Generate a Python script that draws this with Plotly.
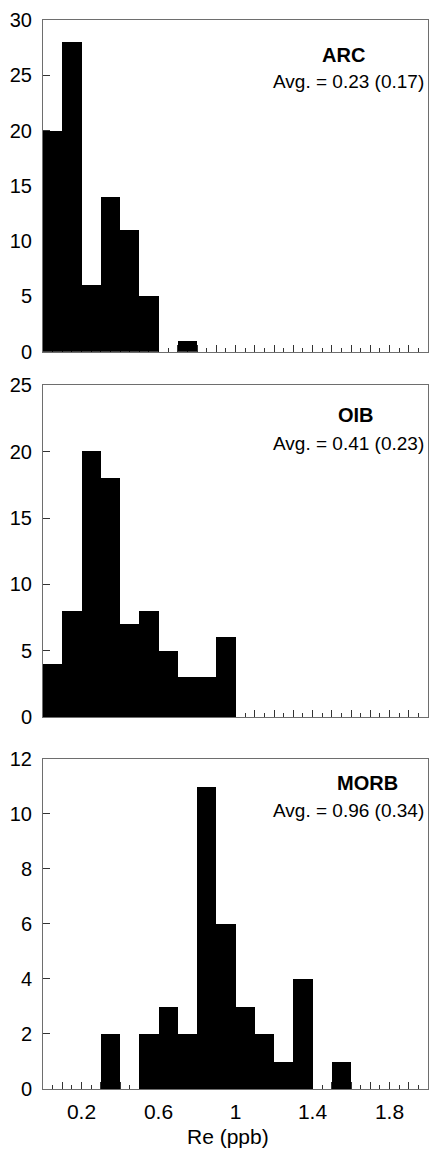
import plotly.graph_objects as go

# Re concentration bins (ppb), left edges, width 0.1
bin_left = [round(0.1 * i, 1) for i in range(20)]
bin_width = 0.1

arc_counts = [20, 28, 6, 14, 11, 5, 0, 1, 0, 0, 0, 0, 0, 0, 0, 0, 0, 0, 0, 0]
oib_counts = [4, 8, 20, 18, 7, 8, 5, 3, 3, 6, 0, 0, 0, 0, 0, 0, 0, 0, 0, 0]
morb_counts = [0, 0, 0, 2, 0, 2, 3, 2, 11, 6, 3, 2, 1, 4, 0, 1, 0, 0, 0, 0]

panel_names = ["ARC", "OIB", "MORB"]
panel_avgs = ["Avg. = 0.23 (0.17)", "Avg. = 0.41 (0.23)", "Avg. = 0.96 (0.34)"]
y_max = [30, 25, 12]
y_step = [5, 5, 2]

x_ticks = [round(0.1 * i, 1) for i in range(21)]
x_labels = ["0.2", "0.6", "1", "1.4", "1.8"]
x_axis_title = "Re (ppb)"

FONT = "Arial, Liberation Sans, sans-serif"
LINE = "#6e6e6e"

domains = [[0.6897, 1.0], [0.3477, 0.6583], [0.0, 0.309]]
name_x = [0.7797, 0.8140, 0.8428]
name_y = [0.8945, 0.9105, 0.927]
avg_y = [0.814, 0.825, 0.843]

fig = go.Figure()
all_counts = [arc_counts, oib_counts, morb_counts]
for i, counts in enumerate(all_counts):
    sfx = "" if i == 0 else str(i + 1)
    fig.add_trace(go.Bar(
        x=bin_left, y=counts, width=bin_width, offset=0,
        marker=dict(color="black", line=dict(width=0)),
        xaxis="x" + sfx, yaxis="y" + sfx, showlegend=False,
        hoverinfo="x+y",
    ))

    tick_text = []
    for v in x_ticks:
        lab = ("%g" % v)
        tick_text.append(lab if (i == 2 and lab in x_labels) else "")

    xa = dict(
        domain=[0, 1], range=[0, 2.0], anchor="y" + sfx,
        tickmode="array", tickvals=x_ticks, ticktext=tick_text,
        ticks="inside", ticklen=7, tickwidth=1, tickcolor="#333",
        minor=dict(tickmode="array",
                   tickvals=[round(0.05 + 0.1 * k, 2) for k in range(20)],
                   ticks="inside", ticklen=4, tickwidth=1, tickcolor="#333"),
        showline=True, linecolor=LINE, linewidth=1, mirror=True,
        showgrid=False, zeroline=False, fixedrange=True,
        tickfont=dict(family=FONT, size=21, color="black"),
        ticklabelstandoff=4, layer="below traces",
    )
    ya = dict(
        domain=domains[i], range=[0, y_max[i]], anchor="x" + sfx,
        tickmode="array",
        tickvals=list(range(0, y_max[i] + 1, y_step[i])),
        ticks="inside", ticklen=7, tickwidth=1, tickcolor="#333",
        showline=True, linecolor=LINE, linewidth=1, mirror=True,
        showgrid=False, zeroline=False, fixedrange=True,
        tickfont=dict(family=FONT, size=20, color="black"),
        ticklabelstandoff=6, layer="below traces",
    )
    fig.layout["xaxis" + sfx] = xa
    fig.layout["yaxis" + sfx] = ya

    fig.add_annotation(text="<b>%s</b>" % panel_names[i],
                       xref="x%s domain" % sfx, yref="y%s domain" % sfx,
                       x=name_x[i], y=name_y[i], xanchor="center", yanchor="middle",
                       showarrow=False, font=dict(family=FONT, size=20, color="black"))
    fig.add_annotation(text=panel_avgs[i],
                       xref="x%s domain" % sfx, yref="y%s domain" % sfx,
                       x=0.994, y=avg_y[i], xanchor="right", yanchor="middle",
                       showarrow=False, font=dict(family=FONT, size=19, color="black"))

fig.add_annotation(text=x_axis_title, xref="paper", yref="paper",
                   x=0.4805, y=-0.0449, xanchor="center", yanchor="middle",
                   showarrow=False, font=dict(family=FONT, size=21, color="black"))

fig.update_layout(
    width=429, height=1150,
    margin=dict(l=43, r=1, t=20, b=61),
    paper_bgcolor="white", plot_bgcolor="white",
    bargap=0,
)

fig.write_html("out.html", config={"displayModeBar": False})
